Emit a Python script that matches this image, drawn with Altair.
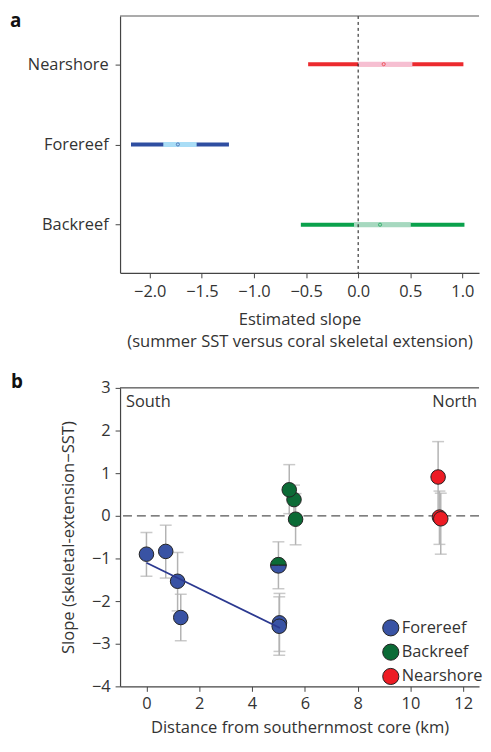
import math
import altair as alt
import pandas as pd

FONT = "Open Sans"
TXT = "#333333"

# ---------------- Panel a data ----------------
regions = ["Nearshore", "Forereef", "Backreef"]
a_lo = [-0.48, -2.18, -0.55]
a_hi = [1.01, -1.24, 1.02]
a_inner_lo = [0.0, -1.87, -0.04]
a_inner_hi = [0.52, -1.55, 0.505]
a_est = [0.245, -1.73, 0.21]
a_dark = ["#ec2a2e", "#2f4ea1", "#0aa14c"]
a_light = ["#f6bfd2", "#a9ddf6", "#a6d8bf"]
a_ticks = [-2.0, -1.5, -1.0, -0.5, 0.0, 0.5, 1.0]

# ---------------- Panel b data ----------------
b_group = ["Forereef", "Forereef", "Forereef", "Forereef", "Forereef", "Forereef",
           "Backreef", "Backreef", "Backreef",
           "Nearshore", "Nearshore", "Nearshore"]
b_dist = [0.0, 0.73, 1.18, 1.30, 5.04, 5.03,
          5.59, 5.41, 5.65,
          11.05, 11.10, 11.15]
b_slope = [-0.90, -0.835, -1.535, -2.385, -2.51, -2.59,
           0.38, 0.61, -0.08,
           0.91, -0.03, -0.07]
b_hi = [-0.39, -0.22, -0.86, -1.84, -1.82, -1.90,
        0.72, 1.20, 0.52,
        1.74, 0.58, 0.53]
b_lo = [-1.42, -1.46, -2.23, -2.93, -3.18, -3.27,
        0.05, 0.05, -0.68,
        0.05, -0.67, -0.90]
# shared core (half forereef / half backreef)
half_dist = [5.0]
half_slope = [-1.16]
half_hi = [-0.61]
half_lo = [-1.71]
# forereef regression line
reg_x = [0.0, 5.06]
reg_y = [-1.10, -2.63]
groups = ["Forereef", "Backreef", "Nearshore"]
g_colors = ["#3953a4", "#0b6b36", "#ed1c24"]
b_xticks = [0, 2, 4, 6, 8, 10, 12]
b_yticks = [-4, -3, -2, -1, 0, 1, 2, 3]

# ---------------- Panel a ----------------
WA, HA = 362, 259
da = pd.DataFrame({"region": regions, "lo": a_lo, "hi": a_hi,
                   "ilo": a_inner_lo, "ihi": a_inner_hi, "est": a_est})

xa = alt.X("lo:Q", scale=alt.Scale(domain=[-2.285, 1.16], nice=False, zero=False),
           axis=alt.Axis(values=a_ticks, format=".1f", grid=False, tickSize=5,
                         labelFontSize=16.5, labelPadding=6, labelFlush=False,
                         title=["Estimated slope", "(summer SST versus coral skeletal extension)"],
                         titleFontSize=16.7, titleFontWeight="normal", titlePadding=12,
                         titleLineHeight=21.5))
ya = alt.Y("region:N", sort=regions, scale=alt.Scale(type="point", padding=0.6),
           axis=alt.Axis(title=None, tickSize=5, labelFontSize=16.5, labelPadding=7,
                         grid=False))

base_a = alt.Chart(da)
thick = base_a.mark_rule(strokeWidth=4).encode(
    x=xa, x2="hi:Q", y=ya,
    color=alt.Color("region:N", scale=alt.Scale(domain=regions, range=a_dark), legend=None))
inner = base_a.mark_rule(strokeWidth=5).encode(
    x="ilo:Q", x2="ihi:Q", y=alt.Y("region:N", sort=regions),
    stroke=alt.Stroke("region:N", scale=alt.Scale(domain=regions, range=a_light), legend=None))
est = base_a.mark_point(shape="circle", size=10, strokeWidth=1, filled=False).encode(
    x="est:Q", y=alt.Y("region:N", sort=regions),
    color=alt.Color("region:N", scale=alt.Scale(domain=regions, range=a_dark), legend=None))
zero_a = alt.Chart(pd.DataFrame({"z": [0.0]})).mark_rule(
    color="#111", strokeDash=[3, 3], strokeWidth=1).encode(x="z:Q")
top_a = alt.Chart(pd.DataFrame({"z": [0]})).mark_rule(color="#555", strokeWidth=1).encode(
    x=alt.value(0), x2=alt.value(WA), y=alt.value(0))
lab_a = alt.Chart(pd.DataFrame({"t": ["a"]})).mark_text(
    fontSize=19, fontWeight="bold", align="left", baseline="top", color="#111",
    font=FONT).encode(text="t:N", x=alt.value(-111), y=alt.value(-4))

panel_a = alt.layer(thick, inner, est, zero_a, top_a, lab_a).properties(width=WA, height=HA)

# ---------------- Panel b ----------------
WB, HB = 362, 301
db = pd.DataFrame({"group": b_group, "dist": b_dist, "slope": b_slope, "hi": b_hi, "lo": b_lo})
dh = pd.DataFrame({"dist": half_dist, "slope": half_slope, "hi": half_hi, "lo": half_lo})
dall = pd.concat([db[["dist", "slope", "hi", "lo"]], dh], ignore_index=True)

xb_scale = alt.Scale(domain=[-1.0, 12.6], nice=False, zero=False)
yb_scale = alt.Scale(domain=[-4, 3], nice=False, zero=False)
xb = alt.X("dist:Q", scale=xb_scale,
           axis=alt.Axis(values=b_xticks, grid=False, tickSize=5, labelFontSize=16.5,
                         labelPadding=4, title="Distance from southernmost core (km)",
                         titleFontSize=16.7, titleFontWeight="normal", titlePadding=8))
yb = alt.Y("slope:Q", scale=yb_scale,
           axis=alt.Axis(values=b_yticks, grid=False, tickSize=5, labelFontSize=16.5,
                         labelPadding=5, title="Slope (skeletal-extension\u2212SST)",
                         titleFontSize=16.7, titleFontWeight="normal", titlePadding=14))

zero_b = alt.Chart(pd.DataFrame({"z": [0.0]})).mark_rule(
    color="#555", strokeDash=[9, 5], strokeWidth=1.2).encode(y=alt.Y("z:Q", scale=yb_scale))
err = alt.Chart(dall).mark_rule(color="#b3b3b3", strokeWidth=1.5).encode(
    x=xb, y=alt.Y("lo:Q", scale=yb_scale), y2="hi:Q")
cap_lo = alt.Chart(dall).mark_tick(color="#b3b3b3", thickness=1.5, size=12,
                                   orient="horizontal").encode(
    x="dist:Q", y=alt.Y("lo:Q", scale=yb_scale))
cap_hi = alt.Chart(dall).mark_tick(color="#b3b3b3", thickness=1.5, size=12,
                                   orient="horizontal").encode(
    x="dist:Q", y=alt.Y("hi:Q", scale=yb_scale))
pts = alt.Chart(db).mark_point(shape="circle", filled=True, size=215, opacity=1,
                               stroke="#222", strokeWidth=1).encode(
    x="dist:Q", y=yb,
    color=alt.Color("group:N", scale=alt.Scale(domain=groups, range=g_colors),
                    legend=alt.Legend(orient="none", legendX=264, legendY=233, title=None,
                                      symbolType="circle", symbolSize=265,
                                      symbolStrokeColor="#222", symbolStrokeWidth=1,
                                      symbolOpacity=1,
                                      labelFontSize=16.5, labelColor=TXT, labelFont=FONT,
                                      labelOffset=2, rowPadding=2.5)))
half_top = alt.Chart(dh).mark_arc(radius=8, theta=1.5 * math.pi, theta2=2.5 * math.pi,
                                  color=g_colors[1], stroke="#222", strokeWidth=1).encode(
    x="dist:Q", y="slope:Q")
half_bot = alt.Chart(dh).mark_arc(radius=8, theta=0.5 * math.pi, theta2=1.5 * math.pi,
                                  color=g_colors[0], stroke="#222", strokeWidth=1).encode(
    x="dist:Q", y="slope:Q")
reg = alt.Chart(pd.DataFrame({"x": reg_x, "y": reg_y})).mark_line(
    color="#2b3990", strokeWidth=1.8).encode(x="x:Q", y="y:Q")
top_b = alt.Chart(pd.DataFrame({"z": [0]})).mark_rule(color="#222", strokeWidth=1).encode(
    x=alt.value(0), x2=alt.value(WB), y=alt.value(0))
south = alt.Chart(pd.DataFrame({"t": ["South"]})).mark_text(
    fontSize=16.5, align="left", baseline="middle", color=TXT, font=FONT).encode(
    text="t:N", x=alt.value(6), y=alt.value(14))
north = alt.Chart(pd.DataFrame({"t": ["North"]})).mark_text(
    fontSize=16.5, align="right", baseline="middle", color=TXT, font=FONT).encode(
    text="t:N", x=alt.value(WB - 2), y=alt.value(14))
lab_b = alt.Chart(pd.DataFrame({"t": ["b"]})).mark_text(
    fontSize=19, fontWeight="bold", align="left", baseline="top", color="#111",
    font=FONT).encode(text="t:N", x=alt.value(-110), y=alt.value(-15))

panel_b = alt.layer(zero_b, err, cap_lo, cap_hi, pts, half_top, half_bot, reg,
                    top_b, south, north, lab_b).properties(width=WB, height=HB)

chart = alt.vconcat(panel_a, panel_b, spacing=23).resolve_scale(
    color="independent", stroke="independent"
).properties(
    padding={"left": 2, "top": 1, "right": 0, "bottom": 0}
).configure_view(stroke=None).configure_axis(
    labelFont=FONT, titleFont=FONT, labelColor=TXT, titleColor=TXT,
    domainColor="#444", tickColor="#444", domainWidth=1.2
).configure_text(font=FONT)

chart.save("out.html", embed_options={"renderer": "svg", "actions": False})
